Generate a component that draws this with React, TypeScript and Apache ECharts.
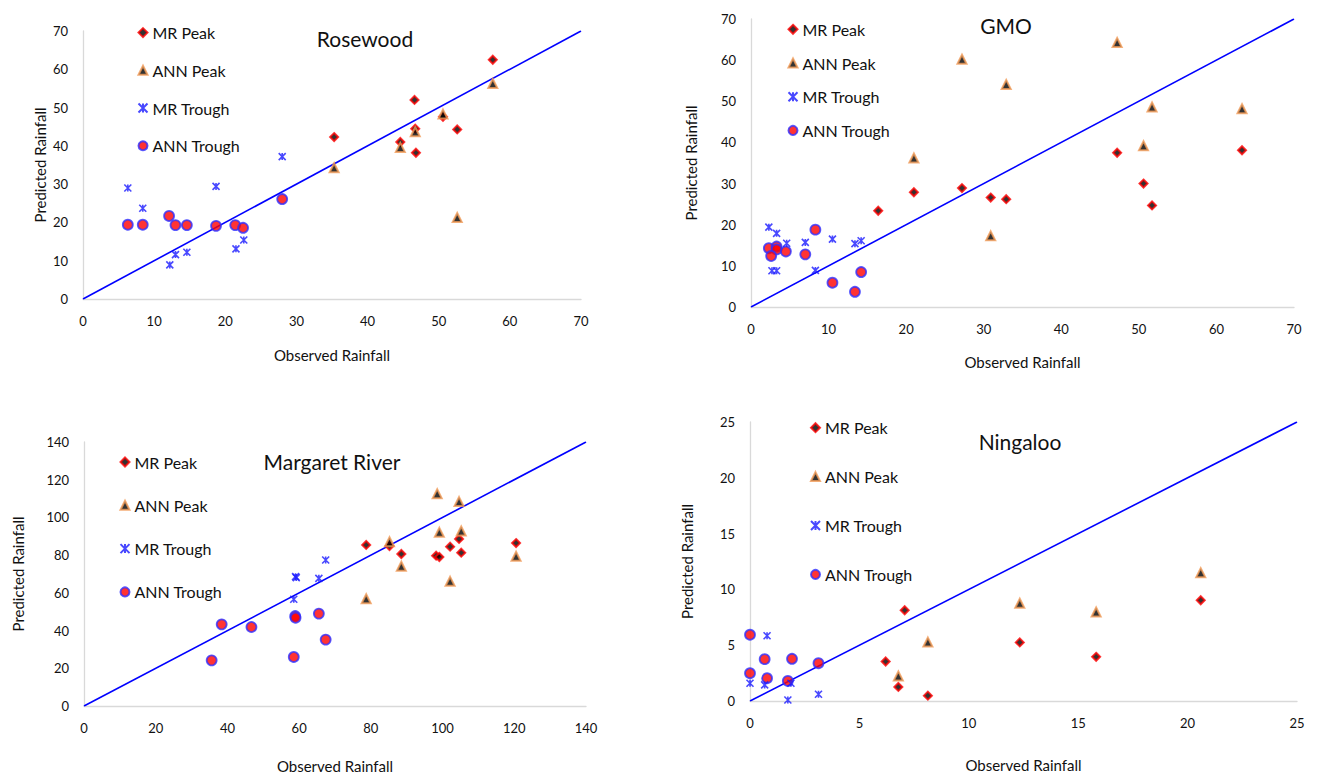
import React, { useEffect, useRef } from "react";
import * as echarts from "echarts";

// ---------- Data ----------
const seriesNames = ["MR Peak", "ANN Peak", "MR Trough", "ANN Trough"];
const panelTitles = ["Rosewood", "GMO", "Margaret River", "Ningaloo"];
const axisMax = [70, 70, 140, 25];
const axisInterval = [10, 10, 20, 5];
const xAxisTitle = "Observed Rainfall";
const yAxisTitle = "Predicted Rainfall";

// Rosewood
const rosewoodMrPeak = [[57.6, 62.5], [46.6, 52.0], [35.3, 42.3], [44.6, 41.0], [46.8, 38.2], [52.6, 44.3], [50.6, 47.6], [46.7, 44.5]];
const rosewoodAnnPeak = [[57.6, 56.3], [50.6, 48.3], [46.7, 43.7], [44.6, 39.6], [35.3, 34.3], [52.6, 21.3]];
const rosewoodMrTrough = [[6.3, 29.0], [8.4, 23.7], [18.7, 29.4], [28.0, 37.2], [12.2, 8.9], [13.0, 11.6], [14.6, 12.2], [21.5, 13.1], [22.6, 15.4]];
const rosewoodAnnTrough = [[6.3, 19.4], [8.4, 19.4], [12.1, 21.7], [13.0, 19.3], [14.6, 19.3], [18.7, 19.1], [21.4, 19.3], [22.5, 18.6], [28.0, 26.1]];

// GMO
const gmoMrPeak = [[16.4, 23.4], [21.0, 27.9], [27.2, 28.9], [30.9, 26.6], [32.9, 26.2], [47.2, 37.5], [50.6, 30.0], [51.7, 24.7], [63.3, 38.1]];
const gmoAnnPeak = [[47.2, 64.3], [27.2, 60.2], [32.9, 54.1], [51.7, 48.6], [63.3, 48.2], [50.6, 39.2], [21.0, 36.2], [30.9, 17.3]];
const gmoMrTrough = [[2.3, 19.4], [3.3, 17.9], [4.6, 15.5], [7.0, 15.7], [10.5, 16.5], [13.4, 15.4], [14.2, 16.1], [2.7, 8.8], [3.3, 8.8], [8.3, 8.9]];
const gmoAnnTrough = [[2.3, 14.3], [3.3, 14.7], [3.3, 14.0], [2.6, 12.4], [4.5, 13.5], [7.0, 12.8], [8.3, 18.8], [10.5, 5.9], [13.4, 3.7], [14.2, 8.5]];

// Margaret River
const mrMrPeak = [[78.7, 85.4], [85.2, 84.8], [88.5, 80.6], [98.2, 79.7], [99.1, 79.0], [102.1, 84.5], [104.6, 88.6], [105.2, 81.3], [120.5, 86.4]];
const mrAnnPeak = [[98.5, 112.6], [104.6, 108.4], [99.1, 92.1], [105.2, 92.8], [85.2, 87.1], [88.5, 74.1], [102.1, 66.1], [78.7, 56.9], [120.5, 79.4]];
const mrMrTrough = [[67.4, 77.4], [59.0, 68.6], [59.2, 68.1], [65.5, 67.7], [58.5, 56.6]];
const mrAnnTrough = [[38.4, 43.3], [46.7, 41.9], [58.9, 47.7], [59.0, 46.8], [65.5, 49.0], [67.4, 35.2], [35.6, 24.2], [58.5, 26.0]];

// Ningaloo
const ningMrPeak = [[7.07, 8.13], [6.2, 3.54], [6.78, 1.26], [8.13, 0.48], [12.33, 5.25], [15.82, 3.96], [20.6, 9.03]];
const ningAnnPeak = [[20.6, 11.5], [12.33, 8.76], [15.82, 7.98], [8.13, 5.28], [6.78, 2.25]];
const ningMrTrough = [[0, 1.59], [0.78, 5.85], [0.67, 1.44], [1.87, 1.59], [1.73, 0.09], [3.13, 0.6]];
const ningAnnTrough = [[0, 5.94], [0, 2.49], [0.67, 3.75], [1.92, 3.78], [0.78, 2.04], [1.73, 1.8], [3.13, 3.39]];

const panelData = [
  [rosewoodMrPeak, rosewoodAnnPeak, rosewoodMrTrough, rosewoodAnnTrough],
  [gmoMrPeak, gmoAnnPeak, gmoMrTrough, gmoAnnTrough],
  [mrMrPeak, mrAnnPeak, mrMrTrough, mrAnnTrough],
  [ningMrPeak, ningAnnPeak, ningMrTrough, ningAnnTrough],
];

// ---------- Layout ----------
const grids = [
  { left: 83, top: 31, width: 498, height: 268 },
  { left: 751, top: 19, width: 543, height: 288 },
  { left: 84, top: 442, width: 502, height: 264 },
  { left: 750, top: 422, width: 547, height: 279 },
];
const titlePos = [
  { x: 365, y: 38 },
  { x: 1006, y: 25 },
  { x: 332, y: 461 },
  { x: 1020, y: 441 },
];
const legendPos = [
  { left: 137.5, top: 23.6, gap: 19.7 },
  { left: 787.5, top: 20.3, gap: 15.7 },
  { left: 119.5, top: 453, gap: 25.3 },
  { left: 810, top: 418.7, gap: 30.9 },
];
const xNameGap = [48, 47, 52, 56];
const yNameGap = [36, 53, 59, 56];

const FONT = "Lato, 'Open Sans', sans-serif";
const TEXT = "#111";
const STAR = "path://M0,0L10,10M10,0L0,10M5,0L5,10";

const symbolStyles = [
  { symbol: "diamond", symbolSize: 8, itemStyle: { color: "#000", borderColor: "#ff0000", borderWidth: 2 } },
  { symbol: "triangle", symbolSize: 9, itemStyle: { color: "#000", borderColor: "#f19a55", borderWidth: 2 } },
  { symbol: STAR, symbolSize: 7, itemStyle: { color: "#1a1aff", borderColor: "#1a1aff", borderWidth: 1.6 } },
  { symbol: "circle", symbolSize: 10, itemStyle: { color: "#ff0000", borderColor: "#2f2fff", borderWidth: 1.8 } },
];

export default function App() {
  const ref = useRef<HTMLDivElement>(null);

  useEffect(() => {
    if (!ref.current) return;
    const chart = echarts.init(ref.current, undefined, { renderer: "svg" });

    const xAxes: any[] = [];
    const yAxes: any[] = [];
    const series: any[] = [];
    const legends: any[] = [];
    const graphics: any[] = [];

    grids.forEach((g, i) => {
      const axisCommon = {
        gridIndex: i,
        type: "value",
        min: 0,
        max: axisMax[i],
        interval: axisInterval[i],
        splitLine: { show: false },
        axisTick: { show: false },
        axisLine: { show: true, lineStyle: { color: "#d9d9d9", width: 1.3 } },
        nameLocation: "middle",
        nameTextStyle: { fontFamily: FONT, fontSize: 15, color: TEXT },
      };
      xAxes.push({
        ...axisCommon,
        name: xAxisTitle,
        nameGap: xNameGap[i],
        axisLabel: { fontFamily: FONT, fontSize: 13, color: TEXT, margin: 15 },
      });
      yAxes.push({
        ...axisCommon,
        name: yAxisTitle,
        nameGap: yNameGap[i],
        nameRotate: 90,
        axisLabel: { fontFamily: FONT, fontSize: 13, color: TEXT, margin: 15 },
      });

      // 1:1 reference line
      series.push({
        type: "line",
        name: "1:1",
        xAxisIndex: i,
        yAxisIndex: i,
        data: [[0, 0], [axisMax[i], axisMax[i]]],
        symbol: "none",
        lineStyle: { color: "#0000ff", width: 1.6 },
        silent: true,
        z: 1,
      });

      const order = [0, 1, 3, 2];
      order.forEach((k) => {
        series.push({
          type: "scatter",
          name: seriesNames[k],
          xAxisIndex: i,
          yAxisIndex: i,
          data: panelData[i][k],
          ...symbolStyles[k],
          z: 3,
        });
      });

      legends.push({
        data: seriesNames,
        orient: "vertical",
        left: legendPos[i].left,
        top: legendPos[i].top,
        padding: 0,
        itemGap: legendPos[i].gap,
        itemWidth: 9,
        itemHeight: 9,
        textStyle: { fontFamily: FONT, fontSize: 16, color: TEXT, lineHeight: 18 },
        selectedMode: false,
      });

      graphics.push({
        type: "text",
        x: titlePos[i].x,
        y: titlePos[i].y,
        style: {
          text: panelTitles[i],
          fontFamily: FONT,
          fontSize: 21,
          fill: TEXT,
          textAlign: "center",
          textVerticalAlign: "middle",
        },
      });
    });

    chart.setOption({
      animation: false,
      backgroundColor: "#ffffff",
      grid: grids,
      xAxis: xAxes,
      yAxis: yAxes,
      legend: legends,
      series,
      graphic: graphics,
    });

    return () => chart.dispose();
  }, []);

  return (
    <div
      ref={ref}
      style={{ position: "absolute", left: 0, top: 0, width: 1317, height: 779 }}
    />
  );
}
